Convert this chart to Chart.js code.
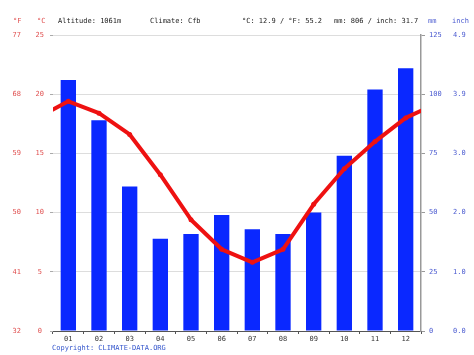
<!DOCTYPE html>
<html><head><meta charset="utf-8">
<script src="https://cdn.jsdelivr.net/npm/chart.js@4"></script>
<style>
html,body{margin:0;padding:0;background:#fff;}
#wrap{position:relative;width:474px;height:355px;overflow:hidden;background:#fff;}
#c{position:absolute;left:0;top:0;}
.t{position:absolute;font-family:"DejaVu Sans Mono",monospace;font-size:7px;white-space:nowrap;line-height:7px;}
.r{color:#e05050;} .b{color:#4a5ad0;} .k{color:#222;}
</style></head><body>
<div id="wrap">
<canvas id="c" width="474" height="355"></canvas>
<div class="t r" style="left:13px;top:18px">°F</div>
<div class="t r" style="left:37px;top:18px">°C</div>
<div class="t k" style="left:58px;top:18px">Altitude: 1061m</div>
<div class="t k" style="left:150px;top:18px">Climate: Cfb</div>
<div class="t k" style="left:242px;top:18px">°C: 12.9 / °F: 55.2</div>
<div class="t k" style="left:334px;top:18px">mm: 806 / inch: 31.7</div>
<div class="t b" style="left:428px;top:18px">mm</div>
<div class="t b" style="left:452px;top:18px">inch</div>
<div class="t" style="left:52px;top:345px;color:#3355cc">Copyright: CLIMATE-DATA.ORG</div>
</div>
<script>
const months = ['01','02','03','04','05','06','07','08','09','10','11','12'];
const precipMM = [106, 89, 61, 39, 41, 49, 43, 41, 50, 74, 102, 111];
const tempC = [19.4, 18.4, 16.6, 13.2, 9.4, 6.9, 5.8, 6.9, 10.7, 13.7, 16.0, 18.0];
const edgeTempLeft = 18.7;   // where the line meets the left edge
const edgeTempRight = 18.6;  // where the line meets the right edge
const fLabels = ['32','41','50','59','68','77'];
const cLabels = ['0','5','10','15','20','25'];
const mmLabels = ['0','25','50','75','100','125'];
const inchLabels = ['0.0','1.0','2.0','3.0','3.9','4.9'];

const linePts = [{x: 0.5, y: edgeTempLeft}]
  .concat(tempC.map((v, i) => ({x: i + 1, y: v})))
  .concat([{x: 12.5, y: edgeTempRight}]);

const FONT = {family: '"DejaVu Sans Mono", monospace', size: 7};
const RED = '#e05050', BLUE = '#4a5ad0';

new Chart(document.getElementById('c'), {
  data: {
    labels: months,
    datasets: [
      {
        type: 'line', data: linePts, xAxisID: 'xl', yAxisID: 'yC', order: 1,
        borderColor: '#ee1111', backgroundColor: '#ee1111', borderWidth: 4,
        tension: 0, borderJoinStyle: 'round', borderCapStyle: 'round',
        pointRadius: c => (c.dataIndex === 0 || c.dataIndex === linePts.length - 1) ? 0 : 2.5,
        pointBorderWidth: 0, pointBackgroundColor: '#ee1111'
      },
      {
        type: 'bar', data: precipMM, xAxisID: 'x', yAxisID: 'yMM', order: 2,
        backgroundColor: '#0a28ff', borderWidth: 0, grouped: false,
        barPercentage: 0.5, categoryPercentage: 1
      }
    ]
  },
  options: {
    responsive: false, animation: false, events: [],
    layout: {padding: {top: 35, bottom: 0, left: 0, right: 0}},
    plugins: {legend: {display: false}, tooltip: {enabled: false}},
    scales: {
      x: {
        type: 'category', position: 'bottom', offset: true,
        grid: {offset: true, drawOnChartArea: false, drawTicks: true, tickLength: 3, color: '#555'},
        border: {display: true, color: '#555', width: 1},
        ticks: {color: '#333', font: FONT, padding: 1, maxRotation: 0, autoSkip: false},
        afterFit: s => { s.height = 24; }
      },
      xl: {type: 'linear', display: false, min: 0.5, max: 12.5},
      yC: {
        type: 'linear', position: 'left', weight: 0, min: 0, max: 25,
        ticks: {stepSize: 5, color: RED, font: FONT, crossAlign: 'center', padding: 6,
          callback: (v, i) => cLabels[i]},
        grid: {color: '#dddddd', tickLength: 3, tickColor: '#aaa'},
        border: {display: false},
        afterFit: s => { s.width = 23; }
      },
      yF: {
        type: 'linear', position: 'left', weight: 1, min: 0, max: 25,
        ticks: {stepSize: 5, color: RED, font: FONT, crossAlign: 'center', padding: 9,
          callback: (v, i) => fLabels[i]},
        grid: {display: false, drawTicks: false},
        border: {display: false},
        afterFit: s => { s.width = 30; }
      },
      yMM: {
        type: 'linear', position: 'right', weight: 0, min: 0, max: 125,
        ticks: {stepSize: 25, color: BLUE, font: FONT, padding: 4,
          callback: (v, i) => mmLabels[i]},
        grid: {drawOnChartArea: false, tickLength: 4, color: '#999'},
        border: {display: true, color: '#999', width: 1.5},
        afterFit: s => { s.width = 32; }
      },
      yIn: {
        type: 'linear', position: 'right', weight: 1, min: 0, max: 125,
        ticks: {stepSize: 25, color: BLUE, font: FONT, padding: 0,
          callback: (v, i) => inchLabels[i]},
        grid: {display: false, drawTicks: false},
        border: {display: false},
        afterFit: s => { s.width = 21; }
      }
    }
  }
});
</script>
</body></html>
